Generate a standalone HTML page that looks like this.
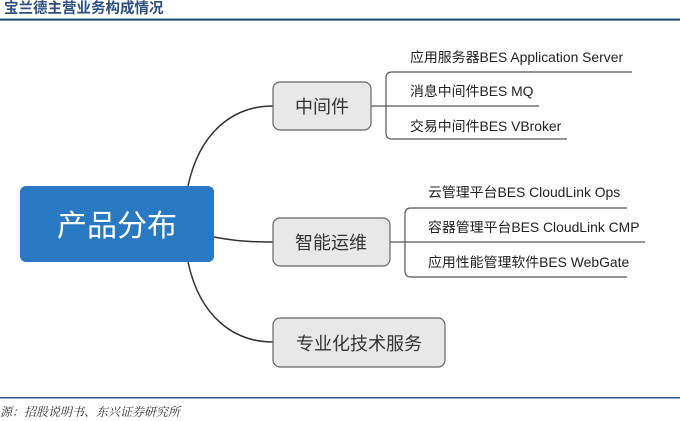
<!DOCTYPE html>
<html><head><meta charset="utf-8"><style>
body{margin:0;width:680px;height:421px;background:#fff;overflow:hidden;font-family:"Liberation Sans","Noto Sans CJK SC",sans-serif;}
</style></head><body>
<svg width="680" height="421" xmlns="http://www.w3.org/2000/svg" style="position:absolute;left:0;top:0">
<text x="4" y="13" font-family="Liberation Sans,Noto Sans CJK SC,sans-serif" font-size="14.5" font-weight="bold" fill="#2b4f7e">宝兰德主营业务构成情况</text>
<rect x="0" y="18" width="680" height="1" fill="#9db5d0"/>
<rect x="0" y="19" width="680" height="1.6" fill="#1f4a78"/>
<rect x="0" y="397" width="680" height="1.5" fill="#2b5a8a"/>
<text x="0" y="416" font-family="Noto Serif CJK SC,serif" font-style="italic" font-size="12" fill="#333">源：招股说明书、东兴证券研究所</text>
<g fill="none" stroke="#333" stroke-width="1.5">
<path d="M188 186 C200 130 235 106 273 106"/>
<path d="M188 262 C200 318 235 342 273 342"/>
<path d="M214 237 C235 241 250 242 273 242"/>
</g>
<g fill="none" stroke="#555" stroke-width="1.2">
<path d="M632 72 H392 Q386 72 386 78 V133 Q386 139 392 139 H567"/>
<path d="M371 106 H539"/>
<path d="M627 208 H411 Q405 208 405 214 V271 Q405 277 411 277 H627"/>
<path d="M390 242 H645"/>
</g>
<rect x="20" y="186" width="194" height="76" rx="6" fill="#2878c2"/>
<text x="117" y="236" text-anchor="middle" font-size="30" fill="#fff" font-family="Liberation Sans,Noto Sans CJK SC,sans-serif">产品分布</text>
<g fill="#e8e8e8" stroke="#666" stroke-width="1.2">
<rect x="273" y="82" width="98" height="48" rx="7"/>
<rect x="273" y="218" width="117" height="48" rx="7"/>
<rect x="273" y="318" width="172" height="49" rx="7"/>
</g>
<g font-size="18" fill="#333" text-anchor="middle" font-family="Liberation Sans,Noto Sans CJK SC,sans-serif">
<text x="322" y="113">中间件</text>
<text x="331" y="249">智能运维</text>
<text x="359" y="350">专业化技术服务</text>
</g>
<g font-size="13.9" fill="#222" font-family="Liberation Sans,Noto Sans CJK SC,sans-serif">
<text x="410" y="62">应用服务器BES Application Server</text>
<text x="410" y="96">消息中间件BES MQ</text>
<text x="410" y="131">交易中间件BES VBroker</text>
<text x="428" y="197">云管理平台BES CloudLink Ops</text>
<text x="428" y="232">容器管理平台BES CloudLink CMP</text>
<text x="428" y="267">应用性能管理软件BES WebGate</text>
</g>
</svg>
</body></html>
